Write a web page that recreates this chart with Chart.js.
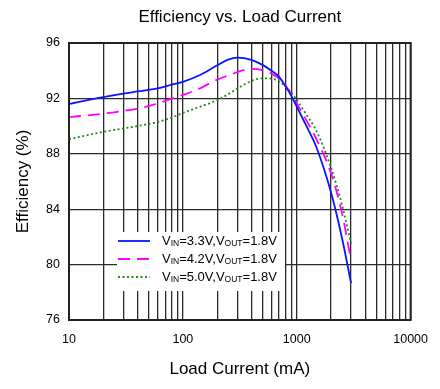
<!DOCTYPE html>
<html>
<head>
<meta charset="utf-8">
<script src="https://cdn.jsdelivr.net/npm/chart.js@4.4.1/dist/chart.umd.min.js"></script>
<style>
  html, body { margin: 0; padding: 0; background: #fff; }
  #wrap { width: 440px; height: 389px; }
</style>
</head>
<body>
<div id="wrap"><canvas id="effChart" width="440" height="389"></canvas></div>
<script>
// datos (corriente en mA, eficiencia en %)
const loadCurrent = [10, 20, 30, 40, 60, 80, 100, 140, 200, 250, 300, 400, 500, 600, 700, 800, 900, 1000, 1200, 1500, 2000, 2500, 3000];
const eff33 = [91.6, 92.1, 92.35, 92.5, 92.72, 93.0, 93.2, 93.67, 94.39, 94.8, 94.94, 94.78, 94.42, 94.0, 93.55, 92.85, 92.15, 91.4, 90.1, 88.4, 85.2, 81.9, 78.65];
const eff42 = [90.65, 90.9, 91.1, 91.27, 91.63, 91.99, 92.25, 92.71, 93.36, 93.65, 93.9, 94.13, 94.05, 93.79, 93.43, 92.9, 92.3, 91.65, 90.5, 89.0, 86.6, 83.7, 80.3];
const eff50 = [89.06, 89.58, 89.83, 90.0, 90.3, 90.62, 90.95, 91.39, 91.87, 92.3, 92.71, 93.26, 93.45, 93.43, 93.22, 92.85, 92.4, 91.9, 90.9, 89.6, 87.0, 84.3, 81.5];

// etiquetas de la leyenda: las partes impares van como subindice
const seriesLabels = [
  ['V', 'IN', '=3.3V,V', 'OUT', '=1.8V'],
  ['V', 'IN', '=4.2V,V', 'OUT', '=1.8V'],
  ['V', 'IN', '=5.0V,V', 'OUT', '=1.8V']
];
const xDecades = [10, 100, 1000, 10000];
const yTicks = [76, 80, 84, 88, 92, 96];

const FONT = '"Liberation Sans", Arial, sans-serif';
Chart.defaults.font.family = FONT;
Chart.defaults.color = '#000';

// lineas de rejilla verticales: 1..9 por cada decada
const xGridTicks = [];
xDecades.forEach((d, i) => {
  if (i === xDecades.length - 1) { xGridTicks.push(d); return; }
  for (let m = 1; m <= 9; m++) xGridTicks.push(d * m);
});

const toPoints = (ys) => ys.map((y, i) => ({ x: loadCurrent[i], y: y }));

const datasets = [
  { label: seriesLabels[0].join(''), data: toPoints(eff33), borderColor: '#0a14ff', borderWidth: 1.8, borderDash: [] },
  { label: seriesLabels[1].join(''), data: toPoints(eff42), borderColor: '#ff00ff', borderWidth: 1.8, borderDash: [12, 7] },
  { label: seriesLabels[2].join(''), data: toPoints(eff50), borderColor: '#1e8c1e', borderWidth: 1.8, borderDash: [2, 2.5] }
];

// plugin: titulo, leyenda dentro del area y marco
const decorPlugin = {
  id: 'effDecor',
  beforeDatasetsDraw(chart) {
    const { ctx, chartArea } = chart;
    const boxX = chartArea.left + 48, boxY = chartArea.top + 189;
    ctx.save();
    ctx.fillStyle = '#fff';
    ctx.fillRect(boxX, boxY, 168, 59);
    chart.data.datasets.forEach((ds, i) => {
      const rowY = boxY + 9 + i * 18;
      ctx.strokeStyle = ds.borderColor;
      ctx.lineWidth = ds.borderWidth;
      ctx.setLineDash(ds.borderDash);
      ctx.beginPath();
      ctx.moveTo(boxX + 1, rowY);
      ctx.lineTo(boxX + 33, rowY);
      ctx.stroke();
      ctx.setLineDash([]);
      let tx = boxX + 45;
      ctx.fillStyle = '#000';
      ctx.textBaseline = 'middle';
      ctx.textAlign = 'left';
      seriesLabels[i].forEach((part, k) => {
        const sub = k % 2 === 1;
        ctx.font = (sub ? '8.5px ' : '13px ') + FONT;
        ctx.fillText(part, tx, rowY + (sub ? 3 : 0));
        tx += ctx.measureText(part).width;
      });
    });
    ctx.restore();
  },
  afterDraw(chart) {
    const { ctx, chartArea } = chart;
    ctx.save();
    ctx.strokeStyle = '#222';
    ctx.lineWidth = 2;
    ctx.strokeRect(chartArea.left, chartArea.top, chartArea.right - chartArea.left, chartArea.bottom - chartArea.top);
    ctx.fillStyle = '#000';
    ctx.font = '17px ' + FONT;
    ctx.textAlign = 'center';
    ctx.textBaseline = 'middle';
    ctx.fillText('Efficiency vs. Load Current', (chartArea.left + chartArea.right) / 2, 17);
    ctx.restore();
  }
};

const gridStyle = { color: '#2b2b2b', lineWidth: 1.3, drawTicks: false };

new Chart(document.getElementById('effChart'), {
  type: 'line',
  data: { datasets: datasets },
  options: {
    responsive: false,
    animation: false,
    devicePixelRatio: 1,
    layout: { padding: { top: 43, right: 28, left: 0, bottom: 0 } },
    elements: {
      point: { radius: 0 },
      line: { cubicInterpolationMode: 'monotone', fill: false }
    },
    plugins: {
      legend: { display: false },
      title: { display: false },
      tooltip: { enabled: false }
    },
    scales: {
      x: {
        type: 'logarithmic',
        min: 10,
        max: 10000,
        afterBuildTicks: (sc) => { sc.ticks = xGridTicks.map(v => ({ value: v })); },
        afterFit: (sc) => { sc.height = 69; },
        ticks: {
          autoSkip: false,
          maxRotation: 0,
          padding: 12,
          font: { size: 12.5 },
          color: '#000',
          callback: (v) => xDecades.includes(v) ? String(v) : ''
        },
        grid: gridStyle,
        border: { display: false },
        title: { display: true, text: 'Load Current (mA)', font: { size: 17 }, color: '#000', padding: { top: 0, bottom: 9 } }
      },
      y: {
        min: 76,
        max: 96,
        afterBuildTicks: (sc) => { sc.ticks = yTicks.map(v => ({ value: v })); },
        afterFit: (sc) => { sc.width = 69; },
        ticks: { padding: 9, font: { size: 12.5 }, color: '#000' },
        grid: gridStyle,
        border: { display: false },
        title: { display: true, text: 'Efficiency (%)', font: { size: 17 }, color: '#000', padding: { top: 13, bottom: 0 } }
      }
    }
  },
  plugins: [decorPlugin]
});
</script>
</body>
</html>
